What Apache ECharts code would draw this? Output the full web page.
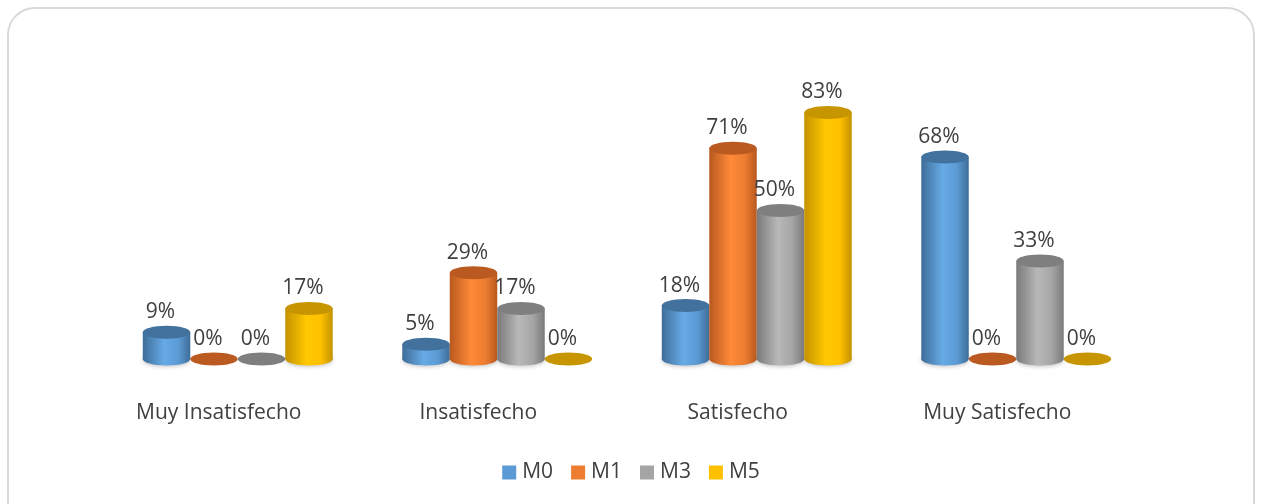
<!DOCTYPE html>
<html lang="es">
<head>
<meta charset="UTF-8">
<title>Satisfacción M0-M5</title>
<script src="https://cdn.jsdelivr.net/npm/echarts@6/dist/echarts.min.js"></script>
<style>
  html, body { margin: 0; padding: 0; background: #fff; overflow: hidden; }
  #frame { position: absolute; left: 7px; top: 7px; width: 1248px; height: 530px;
           border: 2px solid #d9d9d9; border-radius: 28px; box-sizing: border-box; }
  #main { position: absolute; left: 0; top: 0; width: 1262px; height: 504px; }
</style>
</head>
<body>
<div id="frame"></div>
<div id="main"></div>
<script>
  const categories = ['Muy Insatisfecho', 'Insatisfecho', 'Satisfecho', 'Muy Satisfecho'];
  const seriesNames = ['M0', 'M1', 'M3', 'M5'];
  const m0 = [9, 5, 18, 68];
  const m1 = [0, 29, 71, 0];
  const m3 = [0, 17, 50, 33];
  const m5 = [17, 0, 83, 0];

  // base colour, top cap, body dark edge, body highlight
  const palette = [
    { base: '#5b9bd5', top: '#41719c', dark: '#3e6d98', light: '#67aae6' },
    { base: '#ed7d31', top: '#bb5a20', dark: '#b8591f', light: '#ff8a38' },
    { base: '#a5a5a5', top: '#7f7f7f', dark: '#7a7a7a', light: '#b8b8b8' },
    { base: '#ffc000', top: '#c69500', dark: '#c39200', light: '#ffc800' }
  ];

  const allValues = [m0, m1, m3, m5];
  const FONT = '"Open Sans", sans-serif';

  function makeRender(sIdx) {
    const c = palette[sIdx];
    return function (params, api) {
      const cat = api.value(0);
      const val = api.value(1);
      const base = api.coord([cat, 0]);
      const top = api.coord([cat, val]);
      const band = api.size([1, 0])[0];
      const w = band * 0.732 / 4;
      const cx = base[0] + (sIdx - 1.5) * w;
      const rx = w / 2;
      const ry = 6.5;
      const grad = new echarts.graphic.LinearGradient(0, 0, 1, 0, [
        { offset: 0, color: c.dark },
        { offset: 0.45, color: c.light },
        { offset: 0.75, color: c.base },
        { offset: 1, color: c.dark }
      ]);
      const children = [];
      if (val > 0) {
        children.push({
          type: 'ellipse',
          shape: { cx: cx, cy: base[1], rx: rx, ry: ry },
          style: { fill: grad, shadowBlur: 4, shadowColor: 'rgba(0,0,0,0.25)', shadowOffsetY: 1 }
        });
        children.push({
          type: 'rect',
          shape: { x: cx - rx, y: top[1], width: w, height: base[1] - top[1] },
          style: { fill: grad }
        });
      }
      children.push({
        type: 'ellipse',
        shape: { cx: cx, cy: top[1], rx: rx, ry: ry },
        style: { fill: c.top }
      });
      // data label, Excel puts it a bit left of the cylinder centre
      children.push({
        type: 'text',
        style: {
          text: val + '%',
          x: cx - 6,
          y: top[1] - ry - 3,
          align: 'center',
          verticalAlign: 'bottom',
          font: '21px ' + FONT,
          fill: '#404040'
        }
      });
      return { type: 'group', children: children };
    };
  }

  const series = allValues.map(function (vals, i) {
    return {
      name: seriesNames[i],
      type: 'custom',
      renderItem: makeRender(i),
      itemStyle: { color: palette[i].base },
      encode: { x: 0, y: 1 },
      data: vals.map(function (v, k) { return [k, v]; }),
      z: 2
    };
  });

  const myChart = echarts.init(document.getElementById('main'));
  const option = {
    animation: false,
    grid: { left: 108, right: 116, top: 62, bottom: 145 },
    legend: {
      data: seriesNames.map(function (n, i) {
        return { name: n, itemStyle: { color: palette[i].base } };
      }),
      top: 457,
      left: 'center',
      icon: 'rect',
      itemWidth: 14,
      itemHeight: 14,
      itemGap: 18,
      textStyle: { fontFamily: 'Open Sans', fontSize: 21, color: '#404040', padding: [0, 0, 0, 1] }
    },
    xAxis: {
      type: 'category',
      data: categories,
      axisLine: { show: false },
      axisTick: { show: false },
      // the category names sit ~19px left of the bar groups (3D perspective)
      axisLabel: { margin: 44, fontFamily: 'Open Sans', fontSize: 21, color: '#404040',
                   padding: [0, 38, 0, 0] }
    },
    yAxis: {
      type: 'value',
      min: 0,
      max: 100,
      show: false
    },
    series: series
  };
  myChart.setOption(option);
</script>
</body>
</html>
